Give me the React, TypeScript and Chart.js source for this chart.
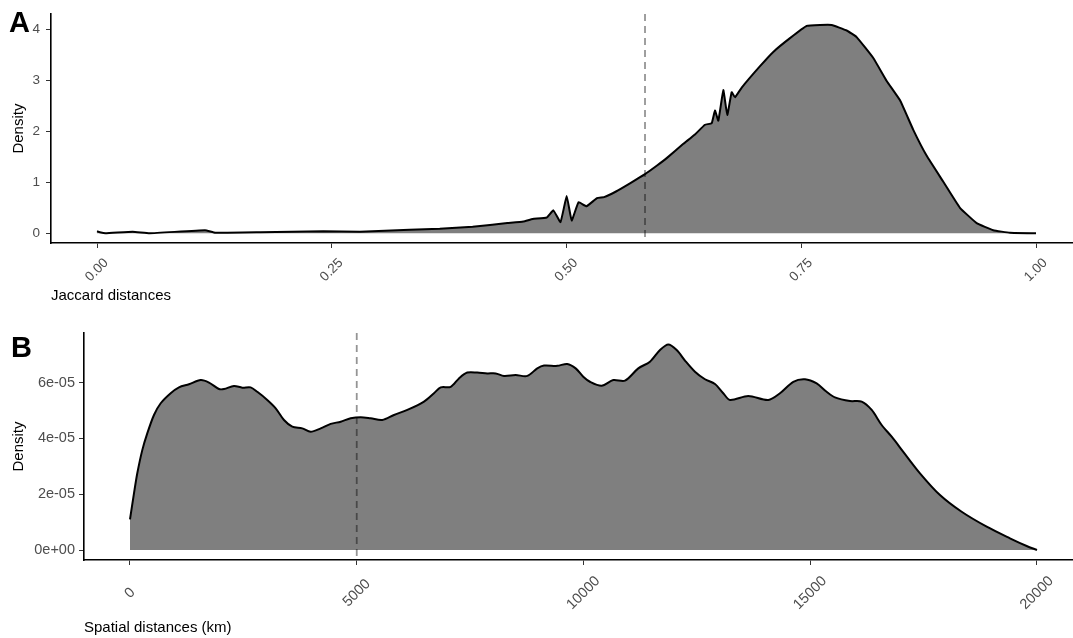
import React, { useEffect, useRef } from "react";
import { Chart, registerables } from "chart.js";

Chart.register(...registerables);

const FONT = "'Liberation Sans', Arial, Helvetica, sans-serif";

// ---------- Panel A: Jaccard distances ----------
const jaccardX = [
  0.0, 0.003, 0.009, 0.038, 0.056, 0.115, 0.126, 0.174, 0.241, 0.28, 0.333, 0.365, 0.4, 0.437, 0.454,
  0.464, 0.479, 0.486, 0.4936, 0.5002, 0.5055, 0.5128, 0.5213, 0.5325, 0.54, 0.5527, 0.5676, 0.5836,
  0.5964, 0.607, 0.6241, 0.6368, 0.6475, 0.6546, 0.6581, 0.6617, 0.667, 0.6712, 0.6759, 0.6794, 0.6866,
  0.7061, 0.7202, 0.738, 0.7558, 0.77, 0.7824, 0.7984, 0.809, 0.8267, 0.841, 0.8552, 0.8693, 0.8836,
  0.9013, 0.919, 0.9368, 0.9545, 0.9723, 1.0,
];
const jaccardDensity = [
  0.04, 0.02, 0.0, 0.03, 0.0, 0.06, 0.01, 0.02, 0.04, 0.03, 0.07, 0.09, 0.13, 0.2, 0.23, 0.28, 0.31,
  0.45, 0.22, 0.73, 0.25, 0.61, 0.53, 0.69, 0.71, 0.82, 0.98, 1.16, 1.33, 1.48, 1.75, 1.94, 2.13, 2.16,
  2.41, 2.21, 2.81, 2.32, 2.77, 2.67, 2.86, 3.28, 3.56, 3.83, 4.07, 4.09, 4.09, 3.98, 3.85, 3.44, 2.99,
  2.61, 2.03, 1.52, 1.01, 0.5, 0.2, 0.06, 0.01, 0.0,
];
const jaccardXTicks = [0, 0.25, 0.5, 0.75, 1];
const jaccardXTickLabels = ["0.00", "0.25", "0.50", "0.75", "1.00"];
const jaccardYTicks = [0, 1, 2, 3, 4];
const jaccardYTickLabels = ["0", "1", "2", "3", "4"];
const jaccardMark = 0.5836;

// ---------- Panel B: Spatial distances ----------
const spatialX = [
  0, 88, 161, 271, 381, 529, 677, 897, 1080, 1301, 1559, 1742, 1962, 2073, 2293, 2476, 2661, 2807,
  3027, 3213, 3396, 3579, 3799, 3984, 4205, 4425, 4646, 4866, 5087, 5307, 5563, 5821, 6115, 6483,
  6703, 6851, 7072, 7254, 7438, 7658, 7879, 8064, 8247, 8505, 8761, 8981, 9129, 9422, 9643, 9828,
  9995, 10143, 10401, 10657, 10915, 11208, 11466, 11687, 11870, 12055, 12238, 12458, 12679, 12899,
  13082, 13230, 13634, 14075, 14333, 14626, 14884, 15142, 15362, 15545, 15876, 16134, 16355, 16575,
  16796, 17052, 17420, 17861, 18339, 18891, 19404, 19772, 20000,
];
const spatialDensity = [
  1.1e-5, 2.03e-5, 2.75e-5, 3.58e-5, 4.18e-5, 4.84e-5, 5.26e-5, 5.62e-5, 5.83e-5, 5.94e-5, 6.09e-5,
  6.0e-5, 5.77e-5, 5.77e-5, 5.88e-5, 5.82e-5, 5.83e-5, 5.67e-5, 5.38e-5, 5.08e-5, 4.66e-5, 4.42e-5,
  4.36e-5, 4.24e-5, 4.36e-5, 4.52e-5, 4.6e-5, 4.72e-5, 4.76e-5, 4.72e-5, 4.66e-5, 4.84e-5, 5.02e-5,
  5.32e-5, 5.62e-5, 5.83e-5, 5.85e-5, 6.15e-5, 6.36e-5, 6.36e-5, 6.33e-5, 6.33e-5, 6.24e-5, 6.27e-5,
  6.24e-5, 6.51e-5, 6.61e-5, 6.6e-5, 6.67e-5, 6.51e-5, 6.21e-5, 6.03e-5, 5.89e-5, 6.09e-5, 6.07e-5,
  6.51e-5, 6.75e-5, 7.17e-5, 7.37e-5, 7.17e-5, 6.79e-5, 6.39e-5, 6.12e-5, 5.95e-5, 5.62e-5, 5.38e-5,
  5.52e-5, 5.38e-5, 5.62e-5, 6.03e-5, 6.12e-5, 5.97e-5, 5.67e-5, 5.47e-5, 5.34e-5, 5.32e-5, 5.02e-5,
  4.48e-5, 4.06e-5, 3.52e-5, 2.75e-5, 1.97e-5, 1.37e-5, 8.35e-6, 4.19e-6, 1.43e-6, 0,
];
const spatialXTicks = [0, 5000, 10000, 15000, 20000];
const spatialXTickLabels = ["0", "5000", "10000", "15000", "20000"];
const spatialYTicks = [0, 2e-5, 4e-5, 6e-5];
const spatialYTickLabels = ["0e+00", "2e-05", "4e-05", "6e-05"];
const spatialMark = 5000;

type PanelCfg = {
  width: number;
  height: number;
  xs: number[];
  ys: number[];
  xMin: number;
  xMax: number;
  yMin: number;
  yMax: number;
  xTicks: number[];
  xTickLabels: string[];
  yTicks: number[];
  yTickLabels: string[];
  mark: number;
  xTitle: string;
  letter: string;
  letterX: number;
  letterY: number;
  padTop: number;
  yAxisWidth: number;
  xAxisHeight: number;
  yTickFont: number;
  yTickPad: number;
  xTickFont: number;
  xLabelOffset: number;
  xTitlePadBottom: number;
  tension: number;
};

const TITLE_SIZE = 15;

function makePlugin(cfg: PanelCfg) {
  return {
    id: "panelOverlay",
    afterDatasetsDraw(chart: any) {
      const { ctx, chartArea, scales } = chart;
      const x = scales.x.getPixelForValue(cfg.mark);
      ctx.save();
      ctx.strokeStyle = "rgba(0,0,0,0.42)";
      ctx.lineWidth = 1.8;
      ctx.setLineDash([7, 5]);
      ctx.beginPath();
      ctx.moveTo(x, chartArea.top);
      ctx.lineTo(x, chartArea.bottom);
      ctx.stroke();
      ctx.restore();
    },
    afterDraw(chart: any) {
      const { ctx, chartArea, scales } = chart;
      ctx.save();
      ctx.font = `${cfg.xTickFont}px ${FONT}`;
      ctx.fillStyle = "#4d4d4d";
      ctx.textAlign = "center";
      ctx.textBaseline = "middle";
      cfg.xTicks.forEach((v, i) => {
        const px = scales.x.getPixelForValue(v);
        ctx.save();
        ctx.translate(px, chartArea.bottom + cfg.xLabelOffset);
        ctx.rotate(-Math.PI / 4);
        ctx.fillText(cfg.xTickLabels[i], 0, 0);
        ctx.restore();
      });
      ctx.font = `bold 29px ${FONT}`;
      ctx.fillStyle = "#000";
      ctx.textAlign = "left";
      ctx.textBaseline = "alphabetic";
      ctx.fillText(cfg.letter, cfg.letterX, cfg.letterY);
      ctx.restore();
    },
  };
}

function Panel({ cfg, top }: { cfg: PanelCfg; top: number }) {
  const ref = useRef<HTMLCanvasElement | null>(null);
  useEffect(() => {
    if (!ref.current) return;
    const axisGrid = {
      display: true,
      drawOnChartArea: false,
      drawTicks: true,
      tickLength: 5,
      color: "#333333",
      lineWidth: 1,
    };
    const axisBorder = { display: true, color: "#000000", width: 1.6 };
    const chart = new Chart(ref.current, {
      type: "line",
      data: {
        datasets: [
          {
            data: cfg.xs.map((x, i) => ({ x, y: cfg.ys[i] })),
            borderColor: "#000000",
            borderWidth: 2,
            backgroundColor: "#7f7f7f",
            fill: "origin",
            pointRadius: 0,
            tension: cfg.tension,
          },
        ],
      },
      options: {
        animation: false,
        responsive: false,
        devicePixelRatio: 1,
        layout: { padding: { top: cfg.padTop, left: 0, right: 0, bottom: 0 } },
        plugins: { legend: { display: false }, tooltip: { enabled: false } },
        scales: {
          x: {
            type: "linear",
            min: cfg.xMin,
            max: cfg.xMax,
            afterBuildTicks: (s: any) => {
              s.ticks = cfg.xTicks.map((v) => ({ value: v }));
            },
            afterFit: (s: any) => {
              s.height = cfg.xAxisHeight;
            },
            ticks: { display: false },
            grid: axisGrid,
            border: axisBorder,
            title: {
              display: true,
              text: cfg.xTitle,
              align: "start",
              color: "#000000",
              font: { family: FONT, size: TITLE_SIZE },
              padding: { top: 0, bottom: cfg.xTitlePadBottom },
            },
          },
          y: {
            type: "linear",
            min: cfg.yMin,
            max: cfg.yMax,
            afterBuildTicks: (s: any) => {
              s.ticks = cfg.yTicks.map((v) => ({ value: v }));
            },
            afterFit: (s: any) => {
              s.width = cfg.yAxisWidth;
            },
            ticks: {
              callback: (_v: any, i: number) => cfg.yTickLabels[i],
              color: "#4d4d4d",
              font: { family: FONT, size: cfg.yTickFont },
              padding: cfg.yTickPad,
            },
            grid: axisGrid,
            border: axisBorder,
            title: {
              display: true,
              text: "Density",
              color: "#000000",
              font: { family: FONT, size: TITLE_SIZE },
              padding: { top: 10.2, bottom: 0 },
            },
          },
        },
      } as any,
      plugins: [makePlugin(cfg)],
    });
    return () => chart.destroy();
  }, [cfg]);
  return (
    <canvas
      ref={ref}
      width={cfg.width}
      height={cfg.height}
      style={{ position: "absolute", left: 0, top, width: cfg.width, height: cfg.height }}
    />
  );
}

const panelA: PanelCfg = {
  width: 1073,
  height: 318,
  xs: jaccardX,
  ys: jaccardDensity,
  xMin: -0.049,
  xMax: 1.0394,
  yMin: -0.191,
  yMax: 4.302,
  xTicks: jaccardXTicks,
  xTickLabels: jaccardXTickLabels,
  yTicks: jaccardYTicks,
  yTickLabels: jaccardYTickLabels,
  mark: jaccardMark,
  xTitle: "Jaccard distances",
  letter: "A",
  letterX: 9,
  letterY: 31.5,
  padTop: 8,
  yAxisWidth: 51,
  xAxisHeight: 75,
  yTickFont: 13.5,
  yTickPad: 6,
  xTickFont: 13.5,
  xLabelOffset: 27,
  xTitlePadBottom: 13,
  tension: 0.1,
};

const panelB: PanelCfg = {
  width: 1073,
  height: 320,
  xs: spatialX,
  ys: spatialDensity,
  xMin: -1014,
  xMax: 20794,
  yMin: -3.58e-6,
  yMax: 7.778e-5,
  xTicks: spatialXTicks,
  xTickLabels: spatialXTickLabels,
  yTicks: spatialYTicks,
  yTickLabels: spatialYTickLabels,
  mark: spatialMark,
  xTitle: "Spatial distances (km)",
  letter: "B",
  letterX: 11,
  letterY: 39,
  padTop: 15,
  yAxisWidth: 84,
  xAxisHeight: 78,
  yTickFont: 14.5,
  yTickPad: 4,
  xTickFont: 14.5,
  xLabelOffset: 33,
  xTitlePadBottom: 1.5,
  tension: 0.3,
};

export default function App() {
  return (
    <div
      style={{
        position: "fixed",
        left: 0,
        top: 0,
        width: 1073,
        height: 638,
        background: "#ffffff",
        overflow: "hidden",
      }}
    >
      <Panel cfg={panelA} top={0} />
      <Panel cfg={panelB} top={318} />
    </div>
  );
}
